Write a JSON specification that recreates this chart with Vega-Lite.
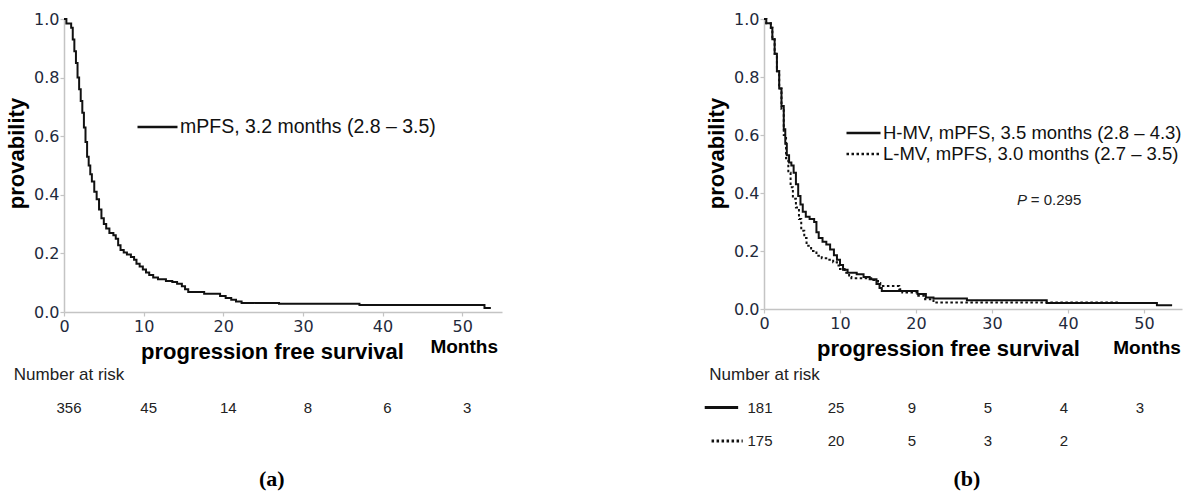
{
  "$schema": "https://vega.github.io/schema/vega-lite/v6.json",
  "autosize": {"type": "pad"},
  "padding": {"left": 5, "top": 11, "right": 0, "bottom": 0},
  "background": "white",
  "config": {
    "view": {"stroke": null},
    "font": "Liberation Sans",
    "axis": {
      "grid": false,
      "domainColor": "#c4c4c4",
      "domainWidth": 1.5,
      "tickColor": "#c4c4c4",
      "tickWidth": 1.2,
      "tickSize": 4,
      "labelFont": "DejaVu Sans",
      "labelFontSize": 16,
      "labelColor": "#1f2a3c",
      "labelOverlap": false,
      "labelFlush": false,
      "titleFont": "Liberation Sans",
      "titleFontWeight": "bold",
      "titleFontSize": 22,
      "titleColor": "#000000"
    }
  },
  "datasets": {
    "kmA": [
      {"t": 0, "p": 1.0, "series": "mPFS, 3.2 months  (2.8 – 3.5)"},
      {"t": 0.3, "p": 0.985, "series": "mPFS, 3.2 months  (2.8 – 3.5)"},
      {"t": 0.9, "p": 0.97, "series": "mPFS, 3.2 months  (2.8 – 3.5)"},
      {"t": 1.1, "p": 0.93, "series": "mPFS, 3.2 months  (2.8 – 3.5)"},
      {"t": 1.3, "p": 0.89, "series": "mPFS, 3.2 months  (2.8 – 3.5)"},
      {"t": 1.5, "p": 0.85, "series": "mPFS, 3.2 months  (2.8 – 3.5)"},
      {"t": 1.7, "p": 0.8, "series": "mPFS, 3.2 months  (2.8 – 3.5)"},
      {"t": 1.9, "p": 0.76, "series": "mPFS, 3.2 months  (2.8 – 3.5)"},
      {"t": 2.1, "p": 0.72, "series": "mPFS, 3.2 months  (2.8 – 3.5)"},
      {"t": 2.3, "p": 0.68, "series": "mPFS, 3.2 months  (2.8 – 3.5)"},
      {"t": 2.5, "p": 0.63, "series": "mPFS, 3.2 months  (2.8 – 3.5)"},
      {"t": 2.7, "p": 0.58, "series": "mPFS, 3.2 months  (2.8 – 3.5)"},
      {"t": 2.9, "p": 0.53, "series": "mPFS, 3.2 months  (2.8 – 3.5)"},
      {"t": 3.1, "p": 0.5, "series": "mPFS, 3.2 months  (2.8 – 3.5)"},
      {"t": 3.3, "p": 0.47, "series": "mPFS, 3.2 months  (2.8 – 3.5)"},
      {"t": 3.5, "p": 0.445, "series": "mPFS, 3.2 months  (2.8 – 3.5)"},
      {"t": 3.8, "p": 0.41, "series": "mPFS, 3.2 months  (2.8 – 3.5)"},
      {"t": 4.1, "p": 0.385, "series": "mPFS, 3.2 months  (2.8 – 3.5)"},
      {"t": 4.4, "p": 0.35, "series": "mPFS, 3.2 months  (2.8 – 3.5)"},
      {"t": 4.7, "p": 0.32, "series": "mPFS, 3.2 months  (2.8 – 3.5)"},
      {"t": 5.0, "p": 0.3, "series": "mPFS, 3.2 months  (2.8 – 3.5)"},
      {"t": 5.3, "p": 0.285, "series": "mPFS, 3.2 months  (2.8 – 3.5)"},
      {"t": 5.7, "p": 0.27, "series": "mPFS, 3.2 months  (2.8 – 3.5)"},
      {"t": 6.2, "p": 0.262, "series": "mPFS, 3.2 months  (2.8 – 3.5)"},
      {"t": 6.5, "p": 0.25, "series": "mPFS, 3.2 months  (2.8 – 3.5)"},
      {"t": 6.8, "p": 0.228, "series": "mPFS, 3.2 months  (2.8 – 3.5)"},
      {"t": 7.1, "p": 0.212, "series": "mPFS, 3.2 months  (2.8 – 3.5)"},
      {"t": 7.5, "p": 0.203, "series": "mPFS, 3.2 months  (2.8 – 3.5)"},
      {"t": 7.9, "p": 0.196, "series": "mPFS, 3.2 months  (2.8 – 3.5)"},
      {"t": 8.4, "p": 0.188, "series": "mPFS, 3.2 months  (2.8 – 3.5)"},
      {"t": 8.8, "p": 0.178, "series": "mPFS, 3.2 months  (2.8 – 3.5)"},
      {"t": 9.1, "p": 0.165, "series": "mPFS, 3.2 months  (2.8 – 3.5)"},
      {"t": 9.5, "p": 0.155, "series": "mPFS, 3.2 months  (2.8 – 3.5)"},
      {"t": 9.9, "p": 0.145, "series": "mPFS, 3.2 months  (2.8 – 3.5)"},
      {"t": 10.3, "p": 0.135, "series": "mPFS, 3.2 months  (2.8 – 3.5)"},
      {"t": 10.7, "p": 0.126, "series": "mPFS, 3.2 months  (2.8 – 3.5)"},
      {"t": 11.2, "p": 0.118, "series": "mPFS, 3.2 months  (2.8 – 3.5)"},
      {"t": 11.8, "p": 0.112, "series": "mPFS, 3.2 months  (2.8 – 3.5)"},
      {"t": 12.8, "p": 0.106, "series": "mPFS, 3.2 months  (2.8 – 3.5)"},
      {"t": 13.6, "p": 0.102, "series": "mPFS, 3.2 months  (2.8 – 3.5)"},
      {"t": 14.2, "p": 0.096, "series": "mPFS, 3.2 months  (2.8 – 3.5)"},
      {"t": 14.8, "p": 0.088, "series": "mPFS, 3.2 months  (2.8 – 3.5)"},
      {"t": 15.2, "p": 0.078, "series": "mPFS, 3.2 months  (2.8 – 3.5)"},
      {"t": 15.6, "p": 0.068, "series": "mPFS, 3.2 months  (2.8 – 3.5)"},
      {"t": 17.6, "p": 0.062, "series": "mPFS, 3.2 months  (2.8 – 3.5)"},
      {"t": 19.6, "p": 0.055, "series": "mPFS, 3.2 months  (2.8 – 3.5)"},
      {"t": 20.3, "p": 0.048, "series": "mPFS, 3.2 months  (2.8 – 3.5)"},
      {"t": 21.0, "p": 0.042, "series": "mPFS, 3.2 months  (2.8 – 3.5)"},
      {"t": 21.6, "p": 0.036, "series": "mPFS, 3.2 months  (2.8 – 3.5)"},
      {"t": 22.3, "p": 0.031, "series": "mPFS, 3.2 months  (2.8 – 3.5)"},
      {"t": 27.0, "p": 0.028, "series": "mPFS, 3.2 months  (2.8 – 3.5)"},
      {"t": 37.1, "p": 0.024, "series": "mPFS, 3.2 months  (2.8 – 3.5)"},
      {"t": 52.8, "p": 0.014, "series": "mPFS, 3.2 months  (2.8 – 3.5)"},
      {"t": 53.6, "p": 0.014, "series": "mPFS, 3.2 months  (2.8 – 3.5)"}
    ],
    "kmB": [
      {"t": 0, "p": 1.0, "series": "H-MV, mPFS, 3.5 months  (2.8 – 4.3)"},
      {"t": 0.3, "p": 0.985, "series": "H-MV, mPFS, 3.5 months  (2.8 – 4.3)"},
      {"t": 0.9, "p": 0.97, "series": "H-MV, mPFS, 3.5 months  (2.8 – 4.3)"},
      {"t": 1.1, "p": 0.93, "series": "H-MV, mPFS, 3.5 months  (2.8 – 4.3)"},
      {"t": 1.4, "p": 0.88, "series": "H-MV, mPFS, 3.5 months  (2.8 – 4.3)"},
      {"t": 1.7, "p": 0.82, "series": "H-MV, mPFS, 3.5 months  (2.8 – 4.3)"},
      {"t": 2.0, "p": 0.76, "series": "H-MV, mPFS, 3.5 months  (2.8 – 4.3)"},
      {"t": 2.3, "p": 0.7, "series": "H-MV, mPFS, 3.5 months  (2.8 – 4.3)"},
      {"t": 2.6, "p": 0.62, "series": "H-MV, mPFS, 3.5 months  (2.8 – 4.3)"},
      {"t": 2.8, "p": 0.57, "series": "H-MV, mPFS, 3.5 months  (2.8 – 4.3)"},
      {"t": 3.0, "p": 0.53, "series": "H-MV, mPFS, 3.5 months  (2.8 – 4.3)"},
      {"t": 3.3, "p": 0.505, "series": "H-MV, mPFS, 3.5 months  (2.8 – 4.3)"},
      {"t": 3.6, "p": 0.495, "series": "H-MV, mPFS, 3.5 months  (2.8 – 4.3)"},
      {"t": 3.9, "p": 0.47, "series": "H-MV, mPFS, 3.5 months  (2.8 – 4.3)"},
      {"t": 4.2, "p": 0.43, "series": "H-MV, mPFS, 3.5 months  (2.8 – 4.3)"},
      {"t": 4.5, "p": 0.39, "series": "H-MV, mPFS, 3.5 months  (2.8 – 4.3)"},
      {"t": 4.8, "p": 0.36, "series": "H-MV, mPFS, 3.5 months  (2.8 – 4.3)"},
      {"t": 5.1, "p": 0.335, "series": "H-MV, mPFS, 3.5 months  (2.8 – 4.3)"},
      {"t": 5.5, "p": 0.318, "series": "H-MV, mPFS, 3.5 months  (2.8 – 4.3)"},
      {"t": 6.0, "p": 0.31, "series": "H-MV, mPFS, 3.5 months  (2.8 – 4.3)"},
      {"t": 6.6, "p": 0.3, "series": "H-MV, mPFS, 3.5 months  (2.8 – 4.3)"},
      {"t": 6.9, "p": 0.265, "series": "H-MV, mPFS, 3.5 months  (2.8 – 4.3)"},
      {"t": 7.2, "p": 0.245, "series": "H-MV, mPFS, 3.5 months  (2.8 – 4.3)"},
      {"t": 7.7, "p": 0.232, "series": "H-MV, mPFS, 3.5 months  (2.8 – 4.3)"},
      {"t": 8.2, "p": 0.222, "series": "H-MV, mPFS, 3.5 months  (2.8 – 4.3)"},
      {"t": 8.7, "p": 0.205, "series": "H-MV, mPFS, 3.5 months  (2.8 – 4.3)"},
      {"t": 9.2, "p": 0.185, "series": "H-MV, mPFS, 3.5 months  (2.8 – 4.3)"},
      {"t": 9.6, "p": 0.17, "series": "H-MV, mPFS, 3.5 months  (2.8 – 4.3)"},
      {"t": 10.0, "p": 0.152, "series": "H-MV, mPFS, 3.5 months  (2.8 – 4.3)"},
      {"t": 10.4, "p": 0.135, "series": "H-MV, mPFS, 3.5 months  (2.8 – 4.3)"},
      {"t": 11.0, "p": 0.125, "series": "H-MV, mPFS, 3.5 months  (2.8 – 4.3)"},
      {"t": 12.2, "p": 0.12, "series": "H-MV, mPFS, 3.5 months  (2.8 – 4.3)"},
      {"t": 13.1, "p": 0.11, "series": "H-MV, mPFS, 3.5 months  (2.8 – 4.3)"},
      {"t": 13.9, "p": 0.103, "series": "H-MV, mPFS, 3.5 months  (2.8 – 4.3)"},
      {"t": 14.8, "p": 0.086, "series": "H-MV, mPFS, 3.5 months  (2.8 – 4.3)"},
      {"t": 15.2, "p": 0.072, "series": "H-MV, mPFS, 3.5 months  (2.8 – 4.3)"},
      {"t": 15.5, "p": 0.062, "series": "H-MV, mPFS, 3.5 months  (2.8 – 4.3)"},
      {"t": 20.2, "p": 0.052, "series": "H-MV, mPFS, 3.5 months  (2.8 – 4.3)"},
      {"t": 21.3, "p": 0.04, "series": "H-MV, mPFS, 3.5 months  (2.8 – 4.3)"},
      {"t": 22.3, "p": 0.036, "series": "H-MV, mPFS, 3.5 months  (2.8 – 4.3)"},
      {"t": 26.7, "p": 0.03, "series": "H-MV, mPFS, 3.5 months  (2.8 – 4.3)"},
      {"t": 37.2, "p": 0.021, "series": "H-MV, mPFS, 3.5 months  (2.8 – 4.3)"},
      {"t": 51.7, "p": 0.013, "series": "H-MV, mPFS, 3.5 months  (2.8 – 4.3)"},
      {"t": 53.7, "p": 0.013, "series": "H-MV, mPFS, 3.5 months  (2.8 – 4.3)"},
      {"t": 0, "p": 1.0, "series": "L-MV, mPFS, 3.0 months  (2.7 – 3.5)"},
      {"t": 0.3, "p": 0.985, "series": "L-MV, mPFS, 3.0 months  (2.7 – 3.5)"},
      {"t": 0.9, "p": 0.97, "series": "L-MV, mPFS, 3.0 months  (2.7 – 3.5)"},
      {"t": 1.1, "p": 0.93, "series": "L-MV, mPFS, 3.0 months  (2.7 – 3.5)"},
      {"t": 1.4, "p": 0.88, "series": "L-MV, mPFS, 3.0 months  (2.7 – 3.5)"},
      {"t": 1.7, "p": 0.82, "series": "L-MV, mPFS, 3.0 months  (2.7 – 3.5)"},
      {"t": 2.0, "p": 0.76, "series": "L-MV, mPFS, 3.0 months  (2.7 – 3.5)"},
      {"t": 2.3, "p": 0.69, "series": "L-MV, mPFS, 3.0 months  (2.7 – 3.5)"},
      {"t": 2.6, "p": 0.6, "series": "L-MV, mPFS, 3.0 months  (2.7 – 3.5)"},
      {"t": 2.9, "p": 0.52, "series": "L-MV, mPFS, 3.0 months  (2.7 – 3.5)"},
      {"t": 3.2, "p": 0.47, "series": "L-MV, mPFS, 3.0 months  (2.7 – 3.5)"},
      {"t": 3.5, "p": 0.42, "series": "L-MV, mPFS, 3.0 months  (2.7 – 3.5)"},
      {"t": 3.8, "p": 0.38, "series": "L-MV, mPFS, 3.0 months  (2.7 – 3.5)"},
      {"t": 4.2, "p": 0.35, "series": "L-MV, mPFS, 3.0 months  (2.7 – 3.5)"},
      {"t": 4.6, "p": 0.31, "series": "L-MV, mPFS, 3.0 months  (2.7 – 3.5)"},
      {"t": 4.9, "p": 0.27, "series": "L-MV, mPFS, 3.0 months  (2.7 – 3.5)"},
      {"t": 5.3, "p": 0.245, "series": "L-MV, mPFS, 3.0 months  (2.7 – 3.5)"},
      {"t": 5.6, "p": 0.218, "series": "L-MV, mPFS, 3.0 months  (2.7 – 3.5)"},
      {"t": 6.2, "p": 0.2, "series": "L-MV, mPFS, 3.0 months  (2.7 – 3.5)"},
      {"t": 6.9, "p": 0.184, "series": "L-MV, mPFS, 3.0 months  (2.7 – 3.5)"},
      {"t": 7.6, "p": 0.175, "series": "L-MV, mPFS, 3.0 months  (2.7 – 3.5)"},
      {"t": 8.6, "p": 0.17, "series": "L-MV, mPFS, 3.0 months  (2.7 – 3.5)"},
      {"t": 9.1, "p": 0.161, "series": "L-MV, mPFS, 3.0 months  (2.7 – 3.5)"},
      {"t": 9.6, "p": 0.15, "series": "L-MV, mPFS, 3.0 months  (2.7 – 3.5)"},
      {"t": 10.0, "p": 0.138, "series": "L-MV, mPFS, 3.0 months  (2.7 – 3.5)"},
      {"t": 10.6, "p": 0.125, "series": "L-MV, mPFS, 3.0 months  (2.7 – 3.5)"},
      {"t": 11.2, "p": 0.11, "series": "L-MV, mPFS, 3.0 months  (2.7 – 3.5)"},
      {"t": 11.5, "p": 0.106, "series": "L-MV, mPFS, 3.0 months  (2.7 – 3.5)"},
      {"t": 14.4, "p": 0.1, "series": "L-MV, mPFS, 3.0 months  (2.7 – 3.5)"},
      {"t": 15.0, "p": 0.09, "series": "L-MV, mPFS, 3.0 months  (2.7 – 3.5)"},
      {"t": 15.3, "p": 0.079, "series": "L-MV, mPFS, 3.0 months  (2.7 – 3.5)"},
      {"t": 17.8, "p": 0.068, "series": "L-MV, mPFS, 3.0 months  (2.7 – 3.5)"},
      {"t": 18.2, "p": 0.057, "series": "L-MV, mPFS, 3.0 months  (2.7 – 3.5)"},
      {"t": 20.3, "p": 0.046, "series": "L-MV, mPFS, 3.0 months  (2.7 – 3.5)"},
      {"t": 21.2, "p": 0.034, "series": "L-MV, mPFS, 3.0 months  (2.7 – 3.5)"},
      {"t": 22.3, "p": 0.022, "series": "L-MV, mPFS, 3.0 months  (2.7 – 3.5)"},
      {"t": 46.8, "p": 0.022, "series": "L-MV, mPFS, 3.0 months  (2.7 – 3.5)"}
    ],
    "riskA": [
      {"t": 0, "row": "r1", "n": "356"},
      {"t": 10, "row": "r1", "n": "45"},
      {"t": 20, "row": "r1", "n": "14"},
      {"t": 30, "row": "r1", "n": "8"},
      {"t": 40, "row": "r1", "n": "6"},
      {"t": 50, "row": "r1", "n": "3"}
    ],
    "riskB": [
      {"t": 0, "row": "r1", "n": "181"},
      {"t": 10, "row": "r1", "n": "25"},
      {"t": 20, "row": "r1", "n": "9"},
      {"t": 30, "row": "r1", "n": "5"},
      {"t": 40, "row": "r1", "n": "4"},
      {"t": 50, "row": "r1", "n": "3"},
      {"t": 0, "row": "r2", "n": "175"},
      {"t": 10, "row": "r2", "n": "20"},
      {"t": 20, "row": "r2", "n": "5"},
      {"t": 30, "row": "r2", "n": "3"},
      {"t": 40, "row": "r2", "n": "2"}
    ]
  },
  "spacing": 201,
  "resolve": {"scale": {"strokeDash": "independent"}, "legend": {"strokeDash": "independent"}},
  "hconcat": [
    {
      "spacing": 45.25,
      "bounds": "flush",
      "vconcat": [
        {
          "width": 438,
          "height": 293,
          "layer": [
            {
              "data": {"name": "kmA"},
              "mark": {"type": "line", "interpolate": "step-after", "strokeWidth": 2, "color": "#111111"},
              "encoding": {
                "x": {"field": "t", "type": "quantitative", "scale": {"domain": [0, 55], "nice": false},
                  "axis": {"values": [0, 5, 10, 15, 20, 25, 30, 35, 40, 45, 50, 55], "labelExpr": "datum.value % 10 == 0 ? datum.label : ''", "labelPadding": 2, "title": "progression free survival", "titlePadding": 7, "titleX": 208}},
                "y": {"field": "p", "type": "quantitative", "scale": {"domain": [0, 1], "nice": false},
                  "axis": {"values": [0, 0.1, 0.2, 0.3, 0.4, 0.5, 0.6, 0.7, 0.8, 0.9, 1.0], "labelExpr": "round(datum.value * 10) % 2 == 0 ? format(datum.value, '.1f') : ''", "labelPadding": 1, "title": "provability", "titlePadding": 5, "titleY": 134}},
                "strokeDash": {"field": "series", "type": "nominal", "scale": {"range": [[1, 0]]},
                  "legend": {"orient": "none", "legendX": 72, "legendY": 97.5, "title": null, "symbolType": "stroke", "symbolSize": 1600, "symbolStrokeWidth": 2.5, "symbolStrokeColor": "#111111", "labelFontSize": 19.5, "labelFont": "Liberation Sans", "labelColor": "#111111", "labelOffset": 1, "labelLimit": 500, "padding": 0, "clipHeight": 21}}
              }
            },
            {
              "data": {"values": [{"t": 50.25, "p": -0.119, "label": "Months"}]},
              "mark": {"type": "text", "fontWeight": "bold", "fontSize": 19, "font": "Liberation Sans", "color": "#000000"},
              "encoding": {
                "x": {"field": "t", "type": "quantitative"},
                "y": {"field": "p", "type": "quantitative"},
                "text": {"field": "label"}
              }
            }
          ]
        },
        {
          "width": 438,
          "height": 134,
          "encoding": {
            "x": {"field": "t", "type": "quantitative", "scale": {"domain": [0, 55], "nice": false}, "axis": null},
            "y": {"field": "row", "type": "ordinal", "scale": {"type": "point", "domain": ["header", "r1", "r2", "caption"], "padding": 0.5}, "axis": null}
          },
          "layer": [
            {
              "data": {"values": [{"t": -6.3, "row": "header", "label": "Number at risk"}]},
              "mark": {"type": "text", "align": "left", "fontSize": 17, "dy": 1, "color": "#222222"},
              "encoding": {"text": {"field": "label"}}
            },
            {
              "data": {"name": "riskA"},
              "mark": {"type": "text", "align": "center", "dx": 5, "fontSize": 15, "color": "#222222"},
              "encoding": {"text": {"field": "n"}}
            },
            {
              "data": {"values": [{"t": 26.1, "row": "caption", "label": "(a)"}]},
              "mark": {"type": "text", "font": "Liberation Serif", "fontWeight": "bold", "fontSize": 22, "dy": 4, "color": "#000000"},
              "encoding": {"text": {"field": "label"}}
            }
          ]
        }
      ]
    },
    {
      "spacing": 48.25,
      "bounds": "flush",
      "vconcat": [
        {
          "width": 418,
          "height": 290,
          "layer": [
            {
              "data": {"name": "kmB"},
              "mark": {"type": "line", "interpolate": "step-after", "strokeWidth": 2, "color": "#111111"},
              "encoding": {
                "x": {"field": "t", "type": "quantitative", "scale": {"domain": [0, 55], "nice": false},
                  "axis": {"values": [0, 5, 10, 15, 20, 25, 30, 35, 40, 45, 50, 55], "labelExpr": "datum.value % 10 == 0 ? datum.label : ''", "labelPadding": 2, "title": "progression free survival", "titlePadding": 7, "titleX": 184}},
                "y": {"field": "p", "type": "quantitative", "scale": {"domain": [0, 1], "nice": false},
                  "axis": {"values": [0, 0.1, 0.2, 0.3, 0.4, 0.5, 0.6, 0.7, 0.8, 0.9, 1.0], "labelExpr": "round(datum.value * 10) % 2 == 0 ? format(datum.value, '.1f') : ''", "labelPadding": 1, "title": "provability", "titlePadding": 5, "titleY": 134}},
                "strokeDash": {"field": "series", "type": "nominal",
                  "scale": {"domain": ["H-MV, mPFS, 3.5 months  (2.8 – 4.3)", "L-MV, mPFS, 3.0 months  (2.7 – 3.5)"], "range": [[1, 0], [2.5, 2.5]]},
                  "legend": {"orient": "none", "legendX": 81, "legendY": 103.5, "title": null, "symbolType": "stroke", "symbolSize": 1156, "symbolStrokeWidth": 2.5, "symbolStrokeColor": "#111111", "labelFontSize": 18.5, "labelFont": "Liberation Sans", "labelColor": "#111111", "labelOffset": 1, "labelLimit": 500, "padding": 0, "clipHeight": 21, "rowPadding": 0}}
              }
            },
            {
              "data": {"values": [{"t": 50.4, "p": -0.134, "label": "Months"}]},
              "mark": {"type": "text", "fontWeight": "bold", "fontSize": 19, "font": "Liberation Sans", "color": "#000000"},
              "encoding": {
                "x": {"field": "t", "type": "quantitative"},
                "y": {"field": "p", "type": "quantitative"},
                "text": {"field": "label"}
              }
            },
            {
              "data": {"values": [{"t": 33.3, "p": 0.376, "label": "P"}]},
              "mark": {"type": "text", "align": "left", "fontStyle": "italic", "fontSize": 15, "color": "#222222"},
              "encoding": {
                "x": {"field": "t", "type": "quantitative"},
                "y": {"field": "p", "type": "quantitative"},
                "text": {"field": "label"}
              }
            },
            {
              "data": {"values": [{"t": 35.1, "p": 0.376, "label": "= 0.295"}]},
              "mark": {"type": "text", "align": "left", "fontSize": 15, "color": "#222222"},
              "encoding": {
                "x": {"field": "t", "type": "quantitative"},
                "y": {"field": "p", "type": "quantitative"},
                "text": {"field": "label"}
              }
            }
          ]
        },
        {
          "width": 418,
          "height": 134,
          "encoding": {
            "x": {"field": "t", "type": "quantitative", "scale": {"domain": [0, 55], "nice": false}, "axis": null},
            "y": {"field": "row", "type": "ordinal", "scale": {"type": "point", "domain": ["header", "r1", "r2", "caption"], "padding": 0.5}, "axis": null}
          },
          "layer": [
            {
              "data": {"values": [{"t": -7.2, "row": "header", "label": "Number at risk"}]},
              "mark": {"type": "text", "align": "left", "fontSize": 17, "dy": 1, "color": "#222222"},
              "encoding": {"text": {"field": "label"}}
            },
            {
              "data": {"values": [
                {"t0": -7.8, "t1": -3.4, "row": "r1", "series": "H-MV, mPFS, 3.5 months  (2.8 – 4.3)"},
                {"t0": -6.9, "t1": -2.8, "row": "r2", "series": "L-MV, mPFS, 3.0 months  (2.7 – 3.5)"}
              ]},
              "mark": {"type": "rule", "strokeWidth": 3, "color": "#111111"},
              "encoding": {
                "x": {"field": "t0", "type": "quantitative"},
                "x2": {"field": "t1"},
                "strokeDash": {"field": "series", "type": "nominal", "legend": null}
              }
            },
            {
              "data": {"name": "riskB"},
              "mark": {"type": "text", "align": "center", "dx": -4, "fontSize": 15, "color": "#222222"},
              "encoding": {"text": {"field": "n"}}
            },
            {
              "data": {"values": [{"t": 26.7, "row": "caption", "label": "(b)"}]},
              "mark": {"type": "text", "font": "Liberation Serif", "fontWeight": "bold", "fontSize": 22, "dy": 4, "color": "#000000"},
              "encoding": {"text": {"field": "label"}}
            }
          ]
        }
      ]
    }
  ]
}
